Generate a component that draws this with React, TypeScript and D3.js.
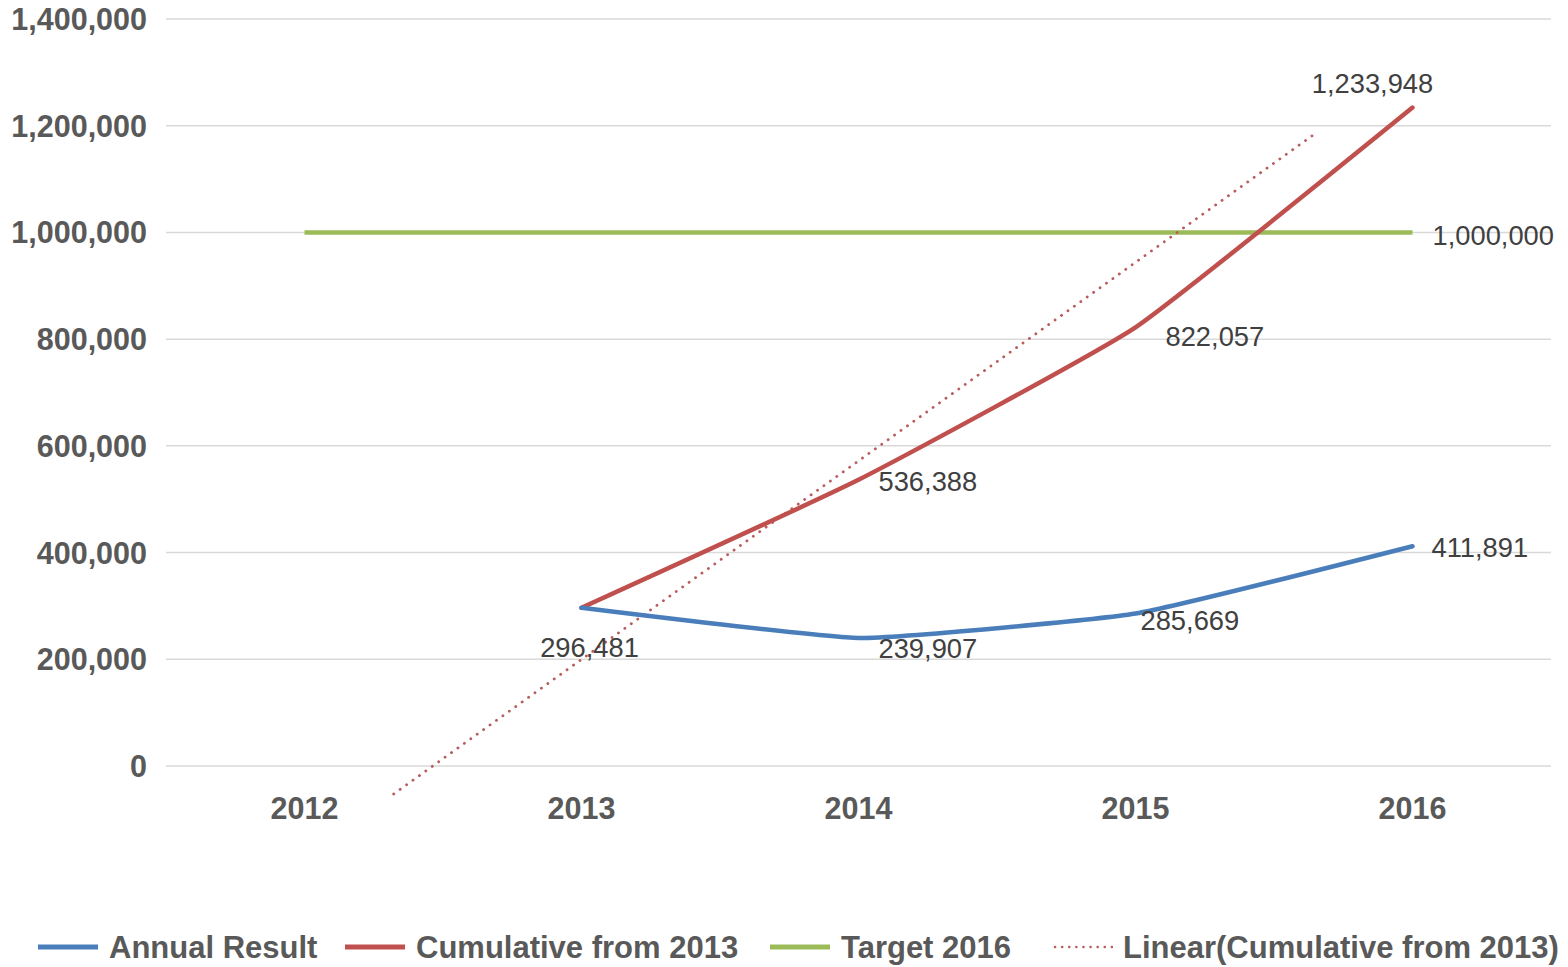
import React from "react";
import * as d3 from "d3";

const years = ["2012", "2013", "2014", "2015", "2016"];
const annualYears = ["2013", "2014", "2015", "2016"];
const annualResult = [296481, 239907, 285669, 411891];
const cumulative = [296481, 536388, 822057, 1233948];
const targetYears = ["2012", "2013", "2014", "2015", "2016"];
const target = [1000000, 1000000, 1000000, 1000000, 1000000];
// trend line endpoints: [category index, value]
const trendIdx = [0.322, 3.647];
const trendVal = [-52500, 1184600];
const yTicks = [0, 200000, 400000, 600000, 800000, 1000000, 1200000, 1400000];
const legendNames = ["Annual Result", "Cumulative from 2013", "Target 2016", "Linear(Cumulative from 2013)"];

const BLUE = "#4a7ebb";
const RED = "#c0504d";
const GREEN = "#9bbb59";
const TREND = "#b85c5c";
const GREY = "#595959";
const LABEL = "#404040";
const FONT = "'Liberation Sans', Arial, sans-serif";

export default function App() {
  const W = 1568, H = 967;
  const left = 166, right = 1551, top = 19, bottom = 766;
  const x = d3.scaleBand<string>().domain(years).range([left, right]);
  const cx = (y: string) => (x(y) as number) + x.bandwidth() / 2;
  const y = d3.scaleLinear().domain([0, 1400000]).range([bottom, top]);
  const xi = d3.scaleLinear().domain([0, 4]).range([cx("2012"), cx("2016")]);
  const fmt = d3.format(",");

  const line = d3
    .line<[string, number]>()
    .x((d) => cx(d[0]))
    .y((d) => y(d[1]))
    .curve(d3.curveCardinal.tension(0.6));
  const straight = d3
    .line<[number, number]>()
    .x((d) => d[0])
    .y((d) => d[1]);

  const blueData: [string, number][] = annualYears.map((yr, i) => [yr, annualResult[i]]);
  const redData: [string, number][] = annualYears.map((yr, i) => [yr, cumulative[i]]);
  const greenData: [string, number][] = targetYears.map((yr, i) => [yr, target[i]]);
  const trendPts: [number, number][] = trendIdx.map((t, i) => [xi(t), y(trendVal[i])]);

  // label placement offsets (style): [dx, dy]
  const blueOffsets = [
    [8, 39],
    [20, 10],
    [5, 7],
    [19, 1],
  ];
  const redOffsets = [
    [0, 0],
    [20, 1],
    [30, 9],
    [-40, -24],
  ];

  const legendX = [38, 345, 770, 1052];
  const legendColors = [BLUE, RED, GREEN, TREND];

  return (
    <svg
      width={W}
      height={H}
      style={{ position: "absolute", left: 0, top: 0, background: "#fff" }}
      fontFamily={FONT}
    >
      <rect width={W} height={H} fill="#fff" />
      {yTicks.map((t) => (
        <g key={t}>
          <line x1={left} x2={right} y1={y(t)} y2={y(t)} stroke="#d9d9d9" strokeWidth={1.5} />
          <text
            x={147}
            y={y(t)}
            dy="0.36em"
            textAnchor="end"
            fontSize={30.5}
            fontWeight="bold"
            fill={GREY}
          >
            {fmt(t)}
          </text>
        </g>
      ))}
      {years.map((yr) => (
        <text
          key={yr}
          x={cx(yr)}
          y={819}
          textAnchor="middle"
          fontSize={30.5}
          fontWeight="bold"
          fill={GREY}
        >
          {yr}
        </text>
      ))}
      <path d={line(greenData) || ""} fill="none" stroke={GREEN} strokeWidth={4.5} />
      <path
        d={straight(trendPts) || ""}
        fill="none"
        stroke={TREND}
        strokeWidth={2.8}
        strokeLinecap="round"
        strokeDasharray="0.1 7.8"
      />
      <path d={line(redData) || ""} fill="none" stroke={RED} strokeWidth={4.5} strokeLinecap="round" />
      <path d={line(blueData) || ""} fill="none" stroke={BLUE} strokeWidth={4.5} strokeLinecap="round" />

      {blueData.map((d, i) => (
        <text
          key={"b" + i}
          x={cx(d[0]) + blueOffsets[i][0]}
          y={y(d[1]) + blueOffsets[i][1]}
          dy="0.36em"
          textAnchor={i === 0 ? "middle" : "start"}
          fontSize={27.3}
          fill={LABEL}
        >
          {fmt(d[1])}
        </text>
      ))}
      {redData.map((d, i) =>
        i === 0 ? null : (
          <text
            key={"r" + i}
            x={cx(d[0]) + redOffsets[i][0]}
            y={y(d[1]) + redOffsets[i][1]}
            dy="0.36em"
            textAnchor={i === 3 ? "middle" : "start"}
            fontSize={27.3}
            fill={LABEL}
          >
            {fmt(d[1])}
          </text>
        )
      )}
      <text
        x={cx("2016") + 20}
        y={y(target[4]) + 3}
        dy="0.36em"
        textAnchor="start"
        fontSize={27.3}
        fill={LABEL}
      >
        {fmt(target[4])}
      </text>

      {legendNames.map((n, i) => (
        <g key={n}>
          <line
            x1={legendX[i] + (i === 3 ? 3 : 0)}
            x2={legendX[i] + 60}
            y1={947}
            y2={947}
            stroke={legendColors[i]}
            strokeWidth={i === 3 ? 2.5 : 5}
            strokeLinecap={i === 3 ? "round" : "butt"}
            strokeDasharray={i === 3 ? "0.1 7" : undefined}
          />
          <text x={legendX[i] + 71} y={958} fontSize={31} fontWeight="bold" fill={GREY}>
            {n}
          </text>
        </g>
      ))}
    </svg>
  );
}
